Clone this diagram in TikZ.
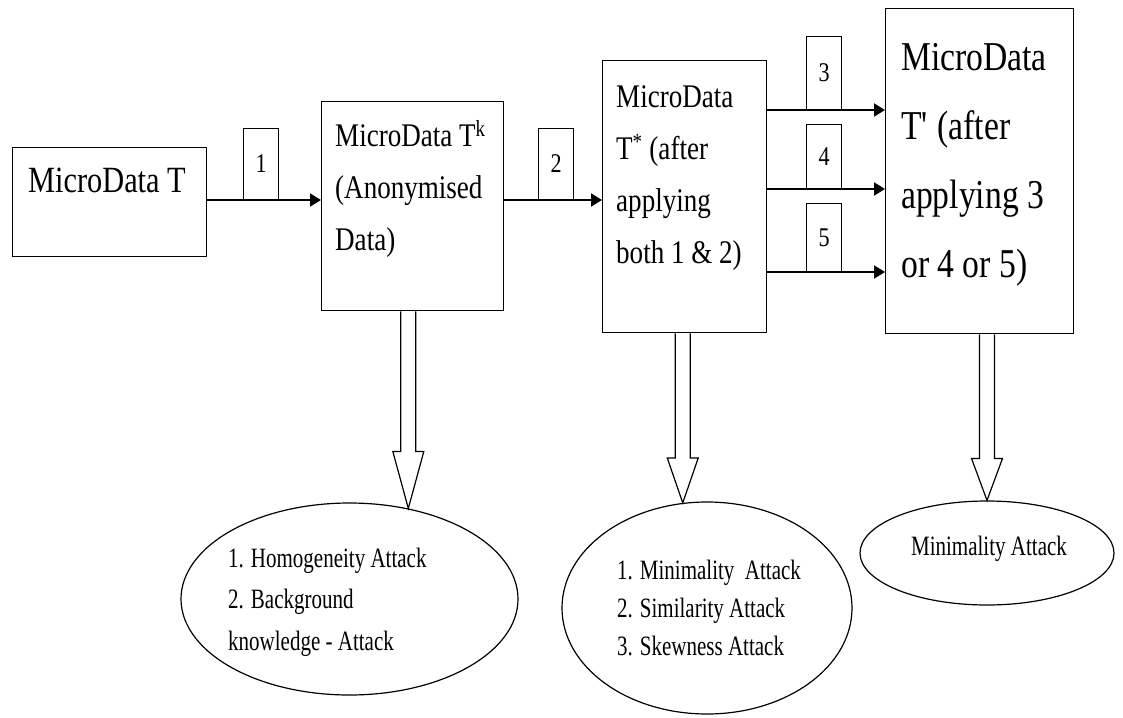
\documentclass[tikz,border=0pt]{standalone}
\usepackage{fontspec}
\setmainfont{Liberation Serif}
\newfontfamily\boxfont[FakeStretch=0.82]{Liberation Serif}
\newfontfamily\ovalfont[FakeStretch=0.75]{Liberation Serif}
\usetikzlibrary{arrows.meta,calc,shapes.geometric}

% hollow block arrow from the bottom of #1 down to the point #2, head length #3
\newcommand\hollowdown[3]{%
  \draw[hollow] let \p1=(#1.south), \p2=(#2) in
    (\x2-7.5pt,\y1) -- (\x2-7.5pt,\y2+#3) -- (\x2-15.5pt,\y2+#3) -- (\x2,\y2)
    -- (\x2+15.5pt,\y2+#3) -- (\x2+7.5pt,\y2+#3) -- (\x2+7.5pt,\y1);}

\begin{document}
\begin{tikzpicture}[x=1pt,y=-1pt,
  box/.style={draw, line width=1.4pt, inner sep=0pt, anchor=north west},
  % multi-line texts are placed by the baseline of their last line
  boxtext/.style={inner sep=0pt, anchor=base west, align=left,
    font={\boxfont\fontsize{33}{52}\selectfont}},
  bigtext/.style={boxtext, font={\boxfont\fontsize{41}{69}\selectfont}},
  numbox/.style={draw, line width=1.2pt, inner sep=0pt, anchor=south west,
    minimum width=35pt, minimum height=71pt,
    font={\boxfont\fontsize{27}{27}\selectfont}},
  flow/.style={line width=2pt, -{Triangle[length=11pt,width=13pt]}},
  oval/.style={draw, ellipse, line width=1.2pt, inner sep=0pt},
  ovaltext/.style={inner sep=0pt, anchor=base west, align=left,
    font={\ovalfont\fontsize{28}{41.5}\selectfont}},
  hollow/.style={draw, line width=1.2pt, fill=white, line join=miter}
]
\fill[white] (0,0) rectangle (1123,717);
\useasboundingbox (0,0) rectangle (1123,717);

% data tables
\node[box, minimum width=194pt, minimum height=109pt] (A) at (12,147) {};
\node[boxtext, font={\boxfont\fontsize{37}{37}\selectfont}] (tA) at (28,192) {MicroData T};

\node[box, minimum width=182pt, minimum height=209pt] (B) at (321,101) {};
\node[boxtext] (tB) at (335,250) {MicroData T\textsuperscript{k}\\(Anonymised\\Data)};

\node[box, minimum width=164pt, minimum height=272pt] (C) at (602,60) {};
\node[boxtext] (tC) at (616,263) {MicroData\\T\textsuperscript{*} (after\\applying\\both 1 \& 2)};

\node[box, minimum width=188pt, minimum height=325pt] (D) at (885,8) {};
\node[bigtext] (tD) at (901,277) {MicroData\\T\textquotesingle{} (after\\applying 3\\or 4 or 5)};

% step labels sitting on the connectors
\node[numbox] (L1) at (243,200) {1};
\node[numbox] (L2) at (538,200) {2};
\node[numbox, minimum height=73pt] (L3) at (806,110) {3};
\node[numbox, minimum height=64pt] (L4) at (806,189) {4};
\node[numbox, minimum height=68pt] (L5) at (806,272) {5};

% connectors
\draw[flow] (A.east |- L1.south) -- (B.west |- L1.south);
\draw[flow] (B.east |- L2.south) -- (C.west |- L2.south);
\draw[flow] (C.east |- L3.south) -- (D.west |- L3.south);
\draw[flow] (C.east |- L4.south) -- (D.west |- L4.south);
\draw[flow] (C.east |- L5.south) -- (D.west |- L5.south);

% attacks
\node[oval, minimum width=337pt, minimum height=192pt] (E1) at (349.5,599) {};
\node[ovaltext] (tE1) at (228,650) {1. Homogeneity Attack\\2. Background\\knowledge - Attack};

\node[oval, minimum width=290pt, minimum height=212pt] (E2) at (707,608) {};
\node[ovaltext, font={\ovalfont\fontsize{28}{38}\selectfont}] (tE2) at (617,655)
  {1. Minimality~ Attack\\2. Similarity Attack\\3. Skewness Attack};

\node[oval, minimum width=254pt, minimum height=104pt] (E3) at (987,553) {};
\node[ovaltext, anchor=base] (tE3) at (989,555) {Minimality Attack};

% block arrows down to the attacks
\coordinate (h1) at (E1.57);
\coordinate (h2) at (E2.103);
\coordinate (h3) at (E3.90);
\hollowdown{B}{h1}{57pt}
\hollowdown{C}{h2}{45pt}
\hollowdown{D}{h3}{42pt}
\end{tikzpicture}
\end{document}
